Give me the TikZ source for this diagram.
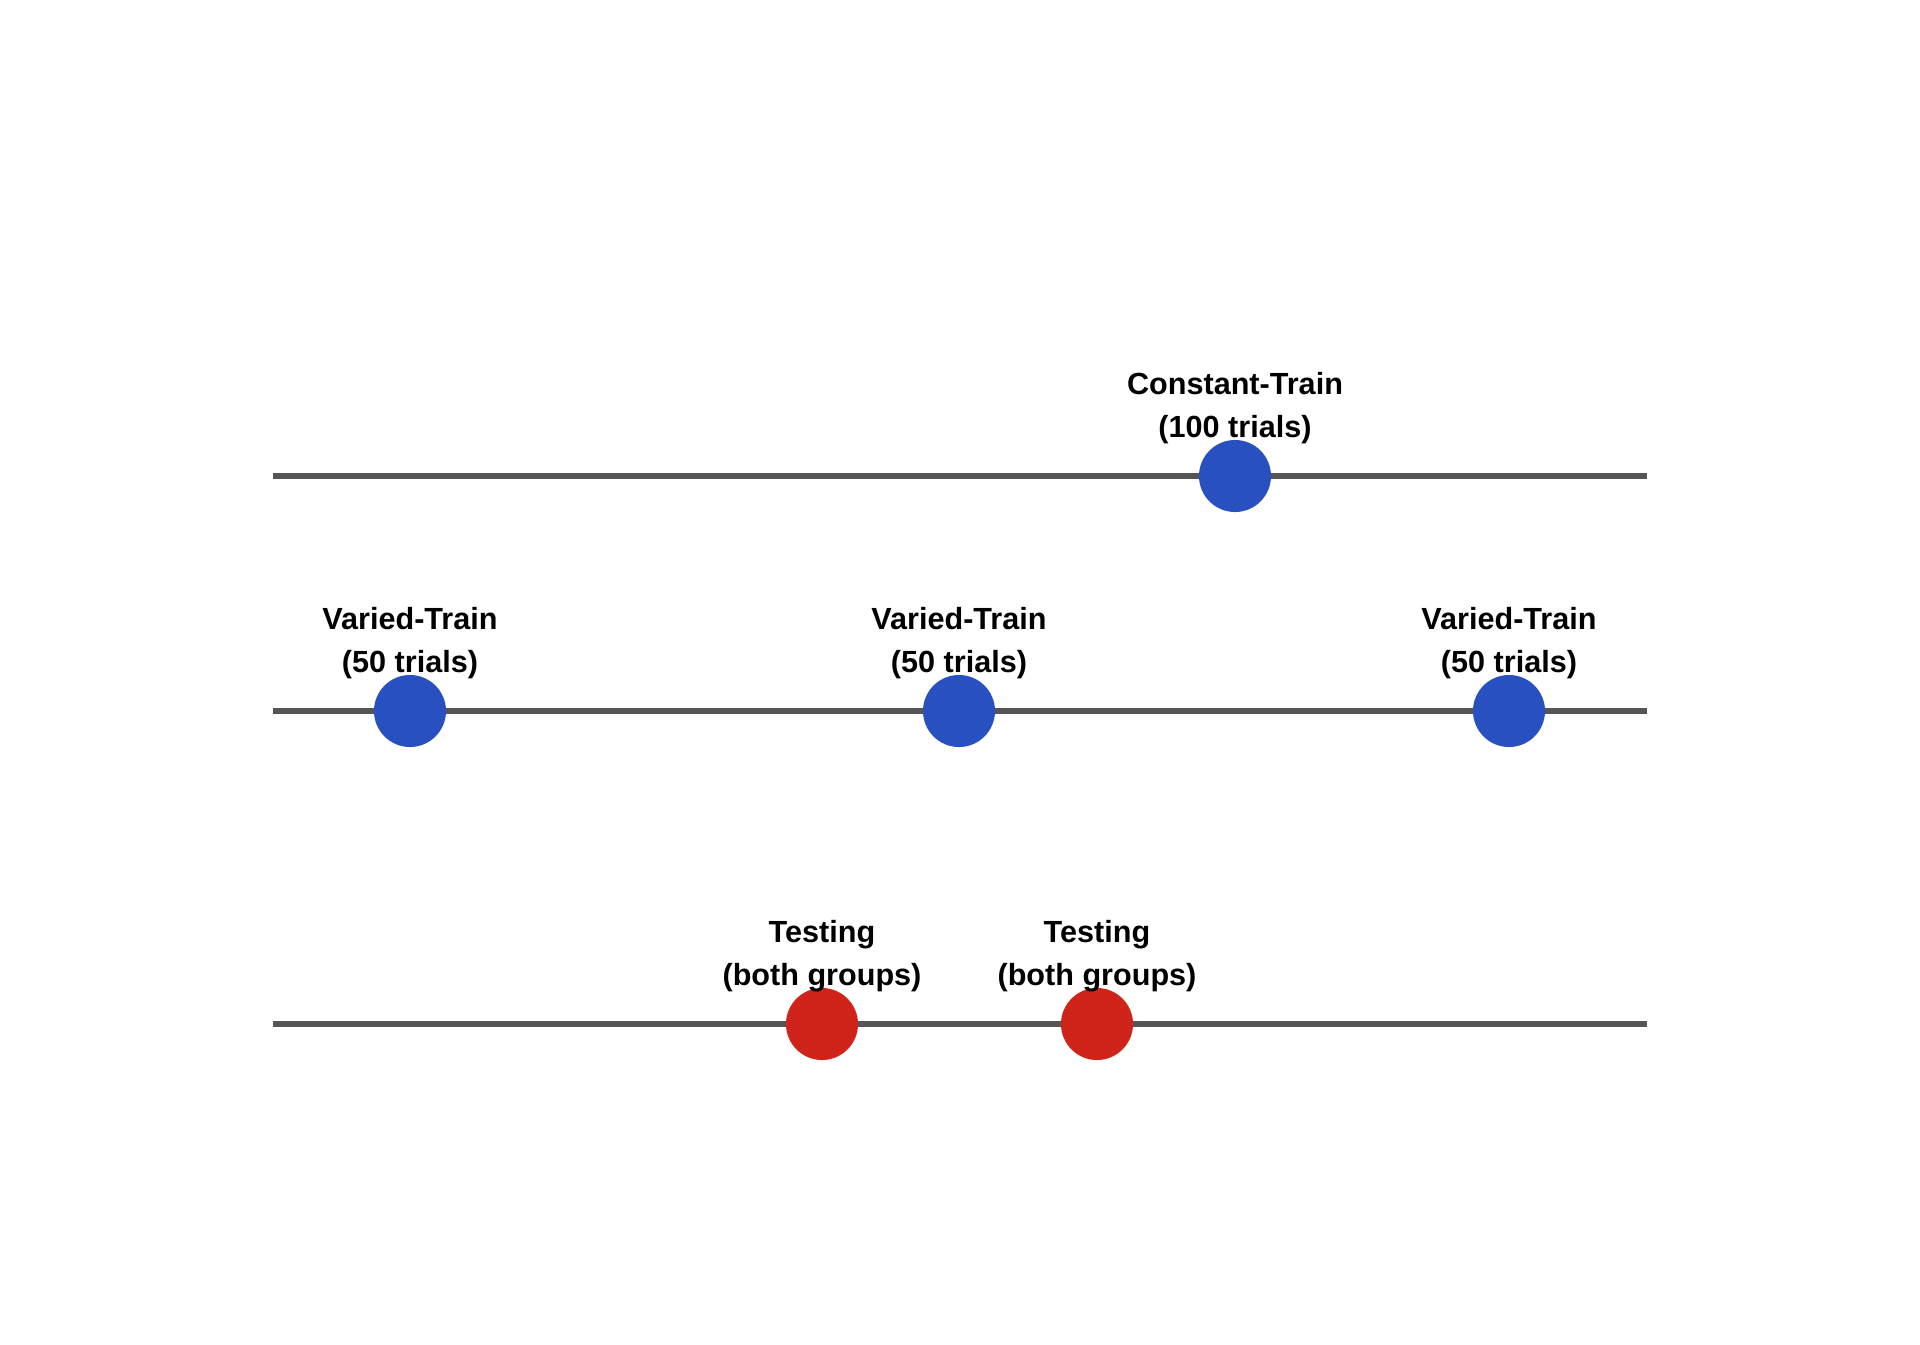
\documentclass[tikz,border=0pt]{standalone}
\usepackage{fontspec}
\setmainfont{Liberation Sans}
\usetikzlibrary{positioning}

\definecolor{trainblue}{HTML}{2850C0}
\definecolor{testred}{HTML}{D0241A}
\definecolor{linegray}{HTML}{555555}

\begin{document}
\begin{tikzpicture}[x=0.01cm, y=-0.01cm,
    dot/.style={circle, inner sep=0pt, minimum size=0.72cm},
    lbl/.style={align=center, inner sep=0pt, font=\fontsize{8.7}{12.3}\selectfont\bfseries},
    track/.style={line width=0.06cm, linegray}]
    \useasboundingbox (0,0) rectangle (1920,1344);

    % 1. Ba đường thời gian
    \coordinate (a1) at (273,476);  \coordinate (a2) at (1647,476);
    \coordinate (b1) at (273,711);  \coordinate (b2) at (1647,711);
    \coordinate (c1) at (273,1024); \coordinate (c2) at (1647,1024);
    \draw[track] (a1) -- (a2);
    \draw[track] (b1) -- (b2);
    \draw[track] (c1) -- (c2);

    % 2. Constant-Train
    \node[dot, fill=trainblue] (ct) at (1235,476) {};
    \node[lbl, above=-0.055cm of ct] (ctl) {Constant-Train\\(100 trials)};

    % 3. Varied-Train
    \node[dot, fill=trainblue] (v1) at (410,711) {};
    \node[dot, fill=trainblue] (v2) at (959,711) {};
    \node[dot, fill=trainblue] (v3) at (1509,711) {};
    \node[lbl, above=-0.055cm of v1] (v1l) {Varied-Train\\(50 trials)};
    \node[lbl, above=-0.055cm of v2] (v2l) {Varied-Train\\(50 trials)};
    \node[lbl, above=-0.055cm of v3] (v3l) {Varied-Train\\(50 trials)};

    % 4. Testing
    \node[dot, fill=testred] (t1) at (822,1024) {};
    \node[dot, fill=testred] (t2) at (1097,1024) {};
    \node[lbl, above=-0.055cm of t1] (t1l) {Testing\\(both groups)};
    \node[lbl, above=-0.055cm of t2] (t2l) {Testing\\(both groups)};
\end{tikzpicture}
\end{document}
